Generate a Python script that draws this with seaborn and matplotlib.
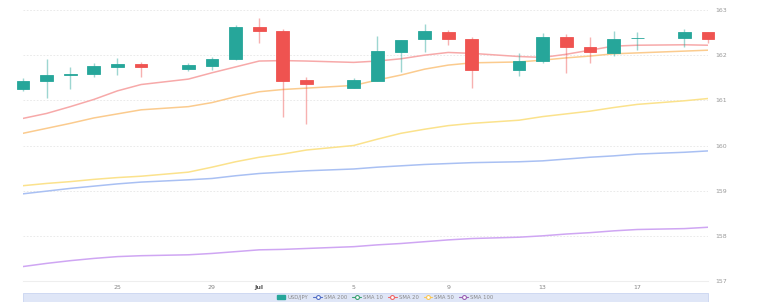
import numpy as np
import pandas as pd
import matplotlib
matplotlib.use("Agg")
import matplotlib.pyplot as plt
from matplotlib.lines import Line2D
from matplotlib.patches import Rectangle, Patch
import seaborn as sns

nan = np.nan
# 30 calendar days, Jun 21 .. Jul 20 (gaps = no candle)
days = ["21", "22", "23", "24", "25", "26", "27", "28", "29", "30",
        "Jul", "2", "3", "4", "5", "6", "7", "8", "9", "10",
        "11", "12", "13", "14", "15", "16", "17", "18", "19", "20"]
tick_idx = [4, 8, 10, 14, 18, 22, 26]

opens = [161.24, 161.43, 161.56, 161.58, 161.74, 161.80, nan, 161.70, 161.77, 161.91,
         162.62, 162.54, 161.45, nan, 161.27, 161.43, 162.08, 162.35, 162.52, 162.35,
         nan, 161.67, 161.87, 162.41, 162.18, 162.05, 162.37, nan, 162.37, 162.51]
highs = [161.50, 161.92, 161.73, 161.83, 161.94, 161.85, nan, 161.82, 161.97, 162.67,
         162.82, 162.57, 161.51, nan, 161.49, 162.42, 162.34, 162.69, 162.56, 162.41,
         nan, 162.05, 162.48, 162.46, 162.41, 162.54, 162.51, nan, 162.57, 162.52]
lows = [161.21, 161.05, 161.25, 161.51, 161.55, 161.51, nan, 161.66, 161.67, 161.90,
        162.28, 160.62, 160.47, nan, 161.27, 161.43, 161.63, 162.06, 162.23, 161.27,
        nan, 161.54, 161.82, 161.60, 161.83, 161.98, 162.11, nan, 162.17, 162.28]
closes = [161.43, 161.56, 161.58, 161.76, 161.80, 161.73, nan, 161.78, 161.92, 162.62,
          162.54, 161.43, 161.36, nan, 161.44, 162.09, 162.34, 162.53, 162.35, 161.68,
          nan, 161.87, 162.41, 162.18, 162.06, 162.36, 162.38, nan, 162.51, 162.36]

sma_20 = [160.60, 160.71, 160.86, 161.02, 161.21, 161.35, nan, 161.47, 161.61, 161.74,
          161.87, 161.88, 161.87, nan, 161.84, 161.87, 161.92, 162.00, 162.06, 162.04,
          nan, 161.97, 161.95, 162.02, 162.11, 162.20, 162.22, nan, 162.23, 162.22]
sma_50 = [160.27, 160.38, 160.49, 160.61, 160.70, 160.79, nan, 160.86, 160.95, 161.08,
          161.19, 161.24, 161.27, nan, 161.33, 161.45, 161.56, 161.69, 161.78, 161.83,
          nan, 161.85, 161.89, 161.94, 161.98, 162.03, 162.05, nan, 162.09, 162.11]
sma_10 = [159.11, 159.16, 159.20, 159.25, 159.29, 159.32, nan, 159.41, 159.52, 159.64,
          159.74, 159.81, 159.90, nan, 160.00, 160.14, 160.27, 160.36, 160.44, 160.49,
          nan, 160.56, 160.64, 160.70, 160.76, 160.84, 160.91, nan, 160.99, 161.04]
sma_200 = [158.93, 158.99, 159.05, 159.10, 159.15, 159.19, nan, 159.24, 159.27, 159.33,
           159.38, 159.41, 159.44, nan, 159.48, 159.52, 159.55, 159.58, 159.60, 159.62,
           nan, 159.64, 159.66, 159.70, 159.74, 159.77, 159.81, nan, 159.85, 159.88]
sma_100 = [157.32, 157.39, 157.45, 157.50, 157.54, 157.56, nan, 157.58, 157.61, 157.65,
           157.69, 157.70, 157.72, nan, 157.76, 157.80, 157.83, 157.87, 157.91, 157.94,
           nan, 157.97, 158.00, 158.04, 158.07, 158.11, 158.14, nan, 158.16, 158.19]

legend_labels = ["USD/JPY", "SMA 200", "SMA 10", "SMA 20", "SMA 50", "SMA 100"]

sns.set_theme(style="white")
plt.rcParams["font.family"] = ["DejaVu Sans"]

W, H = 770, 302
fig = plt.figure(figsize=(W / 100, H / 100), dpi=100)
ax = fig.add_axes([23 / W, 21 / H, 685 / W, 271 / H])

x = np.arange(len(days))

# SMA lines via seaborn
line_colors = {"SMA 20": "#f7a9a9", "SMA 50": "#fbcb8e", "SMA 10": "#fbe28c",
               "SMA 200": "#a9c0f3", "SMA 100": "#cfa6f3"}
series = {"SMA 20": sma_20, "SMA 50": sma_50, "SMA 10": sma_10,
          "SMA 200": sma_200, "SMA 100": sma_100}
rows = []
for name, vals in series.items():
    for k, v in zip(x, vals):
        if not np.isnan(v):
            rows.append({"k": k, "value": v, "series": name})
df = pd.DataFrame(rows)
sns.lineplot(data=df, x="k", y="value", hue="series", palette=line_colors,
             linewidth=1.1, ax=ax, legend=False, estimator=None, sort=True)

# candles
up_c, dn_c = "#26a69a", "#ef5350"
o = np.array(opens); h = np.array(highs); l = np.array(lows); c = np.array(closes)
valid = ~np.isnan(o)
for k in x[valid]:
    col = up_c if c[k] >= o[k] else dn_c
    ax.vlines(k, l[k], h[k], color=col, alpha=0.45, linewidth=1.0, zorder=3, clip_on=False)
    lo, hi = min(o[k], c[k]), max(o[k], c[k])
    hgt = max(hi - lo, 0.012)
    ax.bar(k, hgt, bottom=lo, width=0.54, color=col, edgecolor=col,
           linewidth=0.6, zorder=4, clip_on=False)

ax.set_xlim(0, len(days) - 1)
ax.set_ylim(157, 163)
ax.set_yticks(range(157, 164))
ax.yaxis.tick_right()
ax.tick_params(axis="y", length=0, labelsize=4.5, labelcolor="#999999", pad=5)
ax.set_xticks(tick_idx)
ax.set_xticklabels([days[i] for i in tick_idx])
ax.tick_params(axis="x", length=0, labelsize=4.5, labelcolor="#888888", pad=3)
for lab in ax.get_xticklabels():
    if lab.get_text() == "Jul":
        lab.set_fontweight("bold")
        lab.set_color("#555555")
ax.set_xlabel("")
ax.set_ylabel("")
for yv in range(158, 164):
    ax.axhline(yv, color="#e6e6e6", linewidth=0.6, linestyle=(0, (2, 2)), zorder=0)
for s in ["top", "left", "right"]:
    ax.spines[s].set_visible(False)
ax.spines["bottom"].set_color("#eeeeee")
ax.spines["bottom"].set_linewidth(0.8)

# data-zoom slider strip
fig.patches.append(Rectangle((23 / W, 0), 685 / W, 9 / H, transform=fig.transFigure,
                             facecolor="#dfe6f7", edgecolor="#c9d5f1", linewidth=0.6, zorder=1))

# legend
icon_cols = ["#5470c6", "#3ba272", "#ee6666", "#fac858", "#9a60b4"]
handles = [Patch(facecolor=up_c, edgecolor=up_c)]
for col in icon_cols:
    handles.append(Line2D([0], [0], color=col, lw=0.8, marker="o", markersize=2.8,
                          markerfacecolor="white", markeredgecolor=col, markeredgewidth=0.8))
leg = fig.legend(handles, legend_labels, loc="center", bbox_to_anchor=(0.5, 4.5 / H),
                 ncol=6, frameon=False, fontsize=3.8, handlelength=1.6, handleheight=0.6,
                 handletextpad=0.4, columnspacing=1.0, borderaxespad=0)
for t in leg.get_texts():
    t.set_color("#888888")

fig.savefig("out.png", dpi=100, facecolor="white")
